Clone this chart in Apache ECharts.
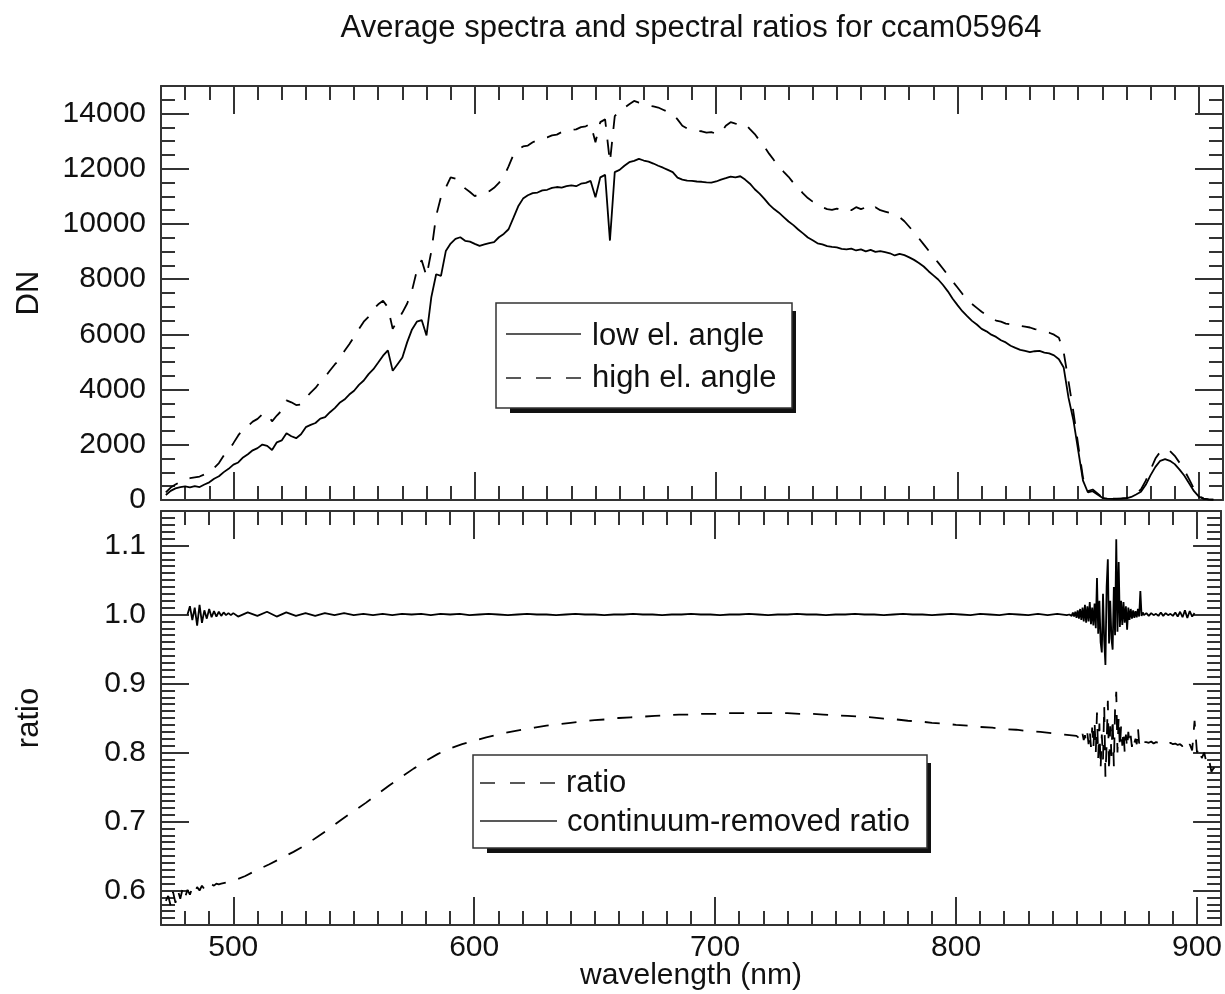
<!DOCTYPE html>
<html><head><meta charset="utf-8">
<script src="https://cdn.jsdelivr.net/npm/echarts@6/dist/echarts.min.js"></script>
<style>html,body{margin:0;padding:0;background:#fff}#c{width:1225px;height:994px}</style>
</head><body><div id="c"></div>
<script>
const FONT = '"Liberation Sans", Arial, Helvetica, sans-serif';

// ---------- top panel: average spectra (DN), sampled every 2 nm from 472 nm ----------
const SPEC_START = 472, SPEC_STEP = 2;
const lowDN = [
  180,330,420,470,490,460,500,470,560,640,
  770,860,1010,1130,1280,1360,1540,1660,1800,1880,
  2010,1960,1810,2090,2160,2420,2310,2240,2380,2640,
  2720,2790,2950,3000,3180,3330,3520,3640,3820,3960,
  4170,4330,4560,4740,4980,5230,5420,4680,4920,5160,
  5720,6180,6460,6520,5960,7350,8180,8120,9020,9290,
  9460,9520,9390,9360,9280,9210,9260,9310,9340,9520,
  9640,9810,10220,10640,10920,11040,11120,11140,11220,11240,
  11310,11340,11320,11370,11400,11370,11460,11490,11560,10970,
  11690,11780,9400,11880,11960,12110,12240,12290,12360,12300,
  12260,12190,12110,12040,11960,11880,11680,11610,11570,11560,
  11540,11530,11510,11500,11540,11610,11660,11720,11690,11730,
  11610,11460,11260,11100,10910,10700,10540,10410,10250,10090,
  9960,9800,9660,9510,9410,9300,9260,9200,9170,9150,
  9100,9080,9110,9040,9080,9010,9060,8990,9020,8980,
  8940,8860,8920,8870,8790,8700,8590,8460,8290,8140,
  7990,7790,7560,7290,7060,6840,6660,6490,6360,6200,
  6110,5990,5910,5790,5710,5590,5510,5440,5400,5360,
  5390,5400,5340,5310,5240,5100,4800,3700,2900,1800,
  700,280,320,200,80,50,40,40,50,60,
  110,200,300,550,900,1200,1420,1480,1420,1300,
  1100,880,600,320,120,40,20,10
];
const highDN = [
  280,450,560,660,760,790,820,850,930,1060,
  1160,1340,1610,1800,2060,2340,2560,2680,2840,2940,
  3110,3140,2850,3060,3240,3610,3540,3440,3460,3700,
  3890,4060,4290,4460,4690,4910,5090,5400,5640,5910,
  6190,6460,6640,6910,7090,7220,6980,6200,6510,6790,
  7120,7590,8310,8690,8100,9010,10300,10980,11320,11690,
  11640,11510,11290,11160,11010,11090,11160,11190,11310,11490,
  11710,12090,12510,12690,12810,12840,12960,13040,13110,13140,
  13210,13240,13330,13340,13410,13430,13510,13540,13630,12960,
  13690,13790,12240,13910,14100,14210,14340,14460,14400,14360,
  14290,14260,14220,14140,14060,13990,13790,13560,13460,13400,
  13370,13360,13310,13330,13270,13310,13560,13690,13640,13600,
  13630,13440,13260,13020,12800,12540,12310,12090,11890,11710,
  11490,11300,11110,10940,10810,10690,10610,10540,10510,10560,
  10490,10560,10500,10610,10540,10600,10490,10610,10500,10450,
  10400,10350,10250,10100,9900,9700,9480,9260,9040,8820,
  8600,8380,8150,7920,7700,7470,7280,7100,6960,6820,
  6700,6610,6500,6460,6390,6360,6290,6310,6280,6250,
  6190,6160,6090,6060,5990,5880,5350,4300,3200,2000,
  800,320,380,240,100,60,50,50,60,80,
  130,250,380,700,1100,1500,1750,1850,1780,1600,
  1350,1080,750,400,150,50,25,10
];

// ---------- bottom panel: ratio (dashed), in pieces of different sampling ----------
const RATIO_A_START = 472, RATIO_A_STEP = 1;
const ratioA = [0.585,0.592,0.578,0.598,0.582,0.600,0.588,0.603,0.590,0.601,0.594,0.604,0.597,0.605,0.600,0.607,0.602,0.608,0.605,0.609,0.607,0.610,0.609];
const RATIO_B_START = 495, RATIO_B_STEP = 5;
const ratioB = [
  0.610,0.614,0.621,0.630,0.638,0.647,0.656,0.666,0.678,0.690,
  0.703,0.715,0.727,0.740,0.753,0.765,0.777,0.788,0.798,0.806,
  0.812,0.817,0.822,0.826,0.830,0.833,0.836,0.839,0.841,0.843,
  0.845,0.847,0.848,0.850,0.851,0.852,0.853,0.854,0.855,0.855,
  0.856,0.856,0.857,0.857,0.857,0.857,0.857,0.857,0.856,0.856,
  0.855,0.854,0.853,0.852,0.851,0.849,0.848,0.846,0.845,0.843,
  0.842,0.840,0.839,0.837,0.836,0.834,0.833,0.831,0.830,0.828,
  0.826,0.824
];
const RATIO_C_START = 850.5, RATIO_C_STEP = 0.5;
const ratioC = [
  0.824,0.821,0.826,0.820,0.827,0.818,0.825,0.815,0.828,0.812,
  0.832,0.808,0.836,0.806,0.845,0.800,0.858,0.792,0.842,0.776,
  0.826,0.790,0.868,0.765,0.812,0.875,0.772,0.838,0.795,0.850,
  0.780,0.862,0.888,0.800,0.852,0.806,0.838,0.810,0.832,0.800,
  0.826,0.806,0.830,0.812,0.824,0.808,0.822,0.814,0.820,0.812,
  0.836,0.813,0.820,0.815,0.818,0.815
];
const RATIO_D_START = 879, RATIO_D_STEP = 1;
const ratioD = [
  0.815,0.814,0.816,0.813,0.815,0.814,0.815,0.813,0.814,0.812,
  0.814,0.812,0.813,0.811,0.812,0.809,0.813,0.806,0.812,0.803,
  0.846,0.800,0.808,0.792,0.800,0.784,0.790,0.772,0.778,0.762
];

// ---------- bottom panel: continuum-removed ratio (solid) ----------
const CR_A_START = 481, CR_A_STEP = 1;
const crA = [1.000,1.012,0.992,1.010,0.984,1.014,0.988,1.006,0.994,1.008,0.996,1.005,0.997,1.004,0.998,1.003,0.999,1.002,0.999,1.002];
const CR_B_START = 502, CR_B_STEP = 4;
const crB = [
  0.997,1.003,0.998,1.004,0.997,1.003,0.998,1.002,0.998,1.002,
  0.999,1.002,0.999,1.001,0.999,1.001,0.999,1.001,1.000,1.001,
  0.999,1.001,1.000,1.001,0.999,1.000,1.001,1.000,0.999,1.000,
  1.001,1.000,1.000,0.999,1.000,1.001,1.000,1.000,0.999,1.000,
  1.000,1.001,1.000,1.000,0.999,1.000,1.000,1.001,1.000,1.000,
  0.999,1.000,1.000,1.001,1.000,0.999,1.000,1.000,1.001,1.000,
  1.000,0.999,1.000,1.000,1.001,1.000,1.000,0.999,1.000,1.001,
  1.000,1.000,0.999,1.000,1.001,1.000,0.999,1.001,1.000,0.999,
  1.001,1.000,0.999,1.001,0.999,1.001,0.999
];
const CR_C_START = 847, CR_C_STEP = 0.5;
const crC = [
  1.000,1.002,0.998,1.003,0.997,1.004,0.995,1.006,0.994,1.008,
  0.992,1.010,0.990,1.014,0.988,1.012,0.990,1.018,0.986,1.010,
  0.984,1.016,0.980,1.053,0.972,1.020,0.960,0.945,1.030,0.962,
  0.927,1.040,1.080,0.958,1.020,0.965,0.949,1.040,0.970,1.109,
  0.975,1.076,0.982,1.020,0.985,1.018,0.988,1.012,0.978,1.010,
  0.992,1.008,0.994,1.006,0.995,1.005,0.996,1.008,0.997,1.034,
  0.998,1.003,0.999
];
const CR_D_START = 879, CR_D_STEP = 1;
const crD = [1.002,0.998,1.002,0.999,1.001,0.998,1.003,0.998,1.002,0.999,1.001,0.998,1.003,0.997,1.004,0.996,1.006,0.995,1.005,0.997,1.002];

// ---------- axes ----------
const X_MIN = 470, X_MAX = 910;
const xMajor = [500, 600, 700, 800, 900];
const xMinor = []; for (let v = 480; v <= 910; v += 10) xMinor.push(v);
const DN_MIN = 0, DN_MAX = 15000;
const dnMajor = [0, 2000, 4000, 6000, 8000, 10000, 12000, 14000];
const dnMinor = []; for (let v = 500; v < 15000; v += 500) dnMinor.push(v);
const R_MIN = 0.55, R_MAX = 1.15;
const rMajor = [0.6, 0.7, 0.8, 0.9, 1.0, 1.1];
const rMinor = []; for (let i = 56; i <= 114; i++) rMinor.push(i / 100);

const TITLE = 'Average spectra and spectral ratios for ccam05964';

function seg(start, step, vals) {
  return vals.map((v, i) => [Math.round((start + i * step) * 100) / 100, v]);
}

const AXC = '#333';
function xAx(g, pos, ticks, len, line, labels) {
  return {
    type: 'value', gridIndex: g, position: pos, min: X_MIN, max: X_MAX,
    axisLine: { show: line, onZero: false, lineStyle: { color: AXC, width: 2 } },
    axisTick: { show: true, inside: true, length: len, customValues: ticks, lineStyle: { color: AXC, width: 2 } },
    axisLabel: labels ? { show: true, customValues: xMajor, margin: 8, fontSize: 30, fontFamily: FONT, color: '#111' } : { show: false },
    splitLine: { show: false }
  };
}
function yAx(g, pos, min, max, ticks, len, line, labels, fmt) {
  return {
    type: 'value', gridIndex: g, position: pos, min: min, max: max,
    axisLine: { show: line, onZero: false, lineStyle: { color: AXC, width: 2 } },
    axisTick: { show: true, inside: true, length: len, customValues: ticks, lineStyle: { color: AXC, width: 2 } },
    axisLabel: labels ? { show: true, customValues: labels, margin: 15, fontSize: 30, fontFamily: FONT, color: '#111', formatter: fmt } : { show: false },
    splitLine: { show: false }
  };
}

const xAxes = [
  xAx(0, 'bottom', xMajor, 28, true, false), xAx(0, 'bottom', xMinor, 14, false, false),
  xAx(0, 'top', xMajor, 28, true, false), xAx(0, 'top', xMinor, 14, false, false),
  xAx(1, 'bottom', xMajor, 28, true, true), xAx(1, 'bottom', xMinor, 14, false, false),
  xAx(1, 'top', xMajor, 28, true, false), xAx(1, 'top', xMinor, 14, false, false)
];
const dnFmt = v => String(Math.round(v));
const rFmt = v => Number(v).toFixed(1);
const yAxes = [
  yAx(0, 'left', DN_MIN, DN_MAX, dnMajor, 28, true, dnMajor, dnFmt), yAx(0, 'left', DN_MIN, DN_MAX, dnMinor, 14, false, null),
  yAx(0, 'right', DN_MIN, DN_MAX, dnMajor, 28, true, null), yAx(0, 'right', DN_MIN, DN_MAX, dnMinor, 14, false, null),
  yAx(1, 'left', R_MIN, R_MAX, rMajor, 28, true, rMajor, rFmt), yAx(1, 'left', R_MIN, R_MAX, rMinor, 14, false, null),
  yAx(1, 'right', R_MIN, R_MAX, rMajor, 28, true, null), yAx(1, 'right', R_MIN, R_MAX, rMinor, 14, false, null)
];

const DASH = [15, 13];
const lineS = (name, xi, data, dashed) => ({
  name, type: 'line', xAxisIndex: xi, yAxisIndex: xi, data, showSymbol: false, symbol: 'none', silent: true,
  clip: true, lineStyle: { color: '#000', width: 1.8, type: dashed ? DASH : 'solid' }
});

const series = [
  lineS('low el. angle', 0, seg(SPEC_START, SPEC_STEP, lowDN), false),
  lineS('high el. angle', 0, seg(SPEC_START, SPEC_STEP, highDN), true),
  lineS('ratio', 4, [].concat(seg(RATIO_A_START, RATIO_A_STEP, ratioA), seg(RATIO_B_START, RATIO_B_STEP, ratioB), seg(RATIO_C_START, RATIO_C_STEP, ratioC), seg(RATIO_D_START, RATIO_D_STEP, ratioD)), true),
  lineS('continuum-removed ratio', 4, [].concat(seg(CR_A_START, CR_A_STEP, crA), seg(CR_B_START, CR_B_STEP, crB), seg(CR_C_START, CR_C_STEP, crC), seg(CR_D_START, CR_D_STEP, crD)), false)
];

const txt = (text, x, y, extra, size) => Object.assign({ type: 'text', silent: true, z: 100,
  style: Object.assign({ text, x, y, font: (size || 31) + 'px ' + FONT, fill: '#111', textAlign: 'left', textVerticalAlign: 'middle' }, extra || {}) });
const ln = (x1, y1, x2, y2, dashed) => ({ type: 'line', silent: true, z: 100,
  shape: { x1, y1, x2, y2 }, style: { stroke: '#222', lineWidth: 1.6, lineDash: dashed ? [15, 15] : null } });
const box = (x, y, w, h) => ([
  { type: 'rect', silent: true, z: 98, shape: { x: x + 14, y: y + h, width: w - 10, height: 5 }, style: { fill: '#111' } },
  { type: 'rect', silent: true, z: 98, shape: { x: x + w, y: y + 8, width: 4, height: h - 3 }, style: { fill: '#111' } },
  { type: 'rect', silent: true, z: 99, shape: { x, y, width: w, height: h }, style: { fill: '#fff', stroke: '#333', lineWidth: 1.5 } }
]);

const graphics = [].concat(
  [txt(TITLE, 691, 28, { textAlign: 'center' }, 31)],
  [Object.assign(txt('DN', 0, 0, { textAlign: 'center' }, 31), { x: 29, y: 293, rotation: Math.PI / 2 })],
  [Object.assign(txt('ratio', 0, 0, { textAlign: 'center' }, 31), { x: 29, y: 718, rotation: Math.PI / 2 })],
  [txt('wavelength (nm)', 691, 976, { textAlign: 'center' }, 30)],
  box(496, 303, 296, 105),
  [ln(506, 334, 581, 334, false), txt(series[0].name, 592, 336),
   ln(506, 378, 581, 378, true), txt(series[1].name, 592, 378)],
  box(473, 755, 454, 93),
  [ln(480, 783, 557, 783, true), txt(series[2].name, 566, 783),
   ln(480, 821, 557, 821, false), txt(series[3].name, 567, 822)]
);

const chart = echarts.init(document.getElementById('c'), null, { renderer: 'canvas' });
chart.setOption({
  animation: false,
  backgroundColor: '#fff',
  grid: [
    { left: 161, top: 86, width: 1062, height: 414 },
    { left: 161, top: 511, width: 1062, height: 414 }
  ],
  xAxis: xAxes,
  yAxis: yAxes,
  series: series,
  graphic: { elements: graphics }
});
</script>
</body></html>
